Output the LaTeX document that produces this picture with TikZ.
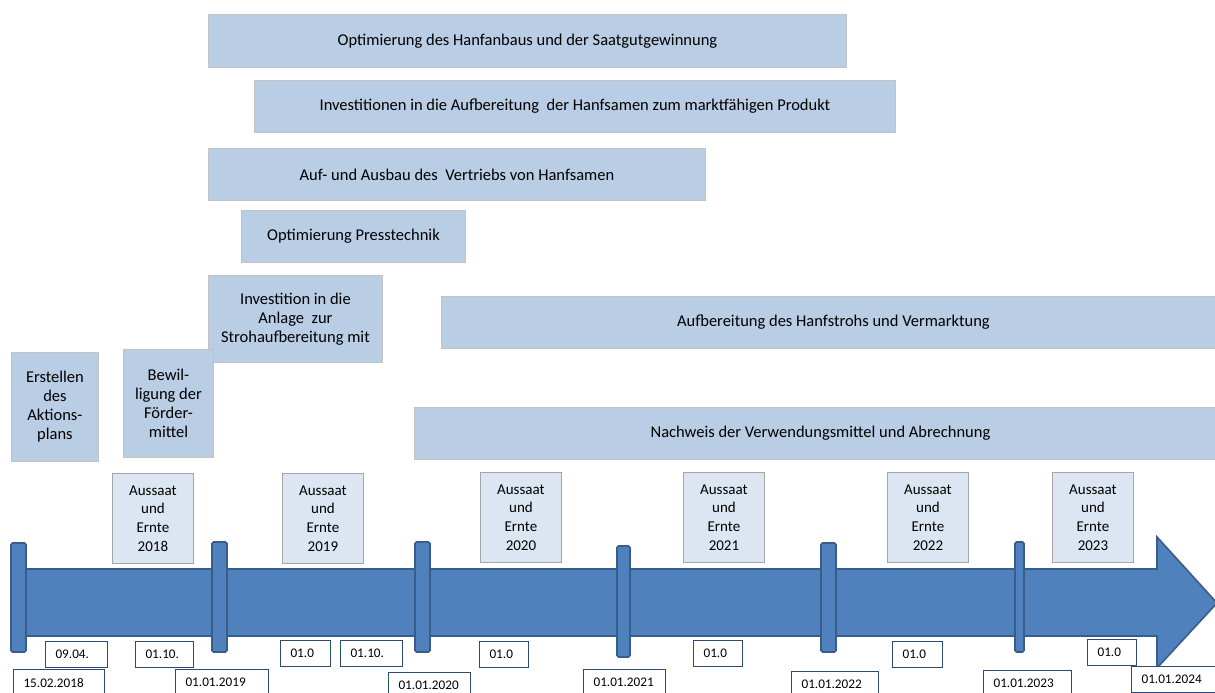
\documentclass[tikz,border=0pt]{standalone}
\usepackage{fontspec}
\setmainfont{Carlito}
\usepackage{xcolor}
\usepackage{tikz}
\usetikzlibrary{positioning}
\definecolor{taskblue}{HTML}{B9CDE5}
\definecolor{cropblue}{HTML}{DCE6F2}
\definecolor{arrowblue}{HTML}{4F81BD}
\definecolor{arrowedge}{HTML}{385D8A}
\definecolor{datenavy}{HTML}{2B4B74}
\definecolor{boxgray}{HTML}{C3C3C3}

\tikzset{
  taskbox/.style={fill=taskblue, draw=boxgray, line width=0.9pt, anchor=north west,
    align=center, inner sep=2pt, font=\fontsize{16.5}{19}\selectfont},
  cropbox/.style={fill=cropblue, draw=boxgray!85!black, line width=0.9pt, anchor=north west,
    align=center, inner sep=2pt, minimum width=81pt, minimum height=90pt,
    font=\fontsize{15}{18.8}\selectfont},
  datebox/.style={fill=white, draw=datenavy, line width=1.1pt, anchor=north west,
    align=left, inner xsep=10pt, inner ysep=0pt, minimum height=26pt,
    font=\fontsize{13.2}{15}\selectfont},
  yearmark/.style={fill=arrowblue, draw=arrowedge, line width=1.6pt, rounded corners=1.5pt}
}

\begin{document}
\begin{tikzpicture}[x=1pt, y=-1pt]
  \useasboundingbox[fill=white] (0,0) rectangle (1215,693);

  % timeline arrow
  \draw[fill=arrowblue, draw=arrowedge, line width=1.6pt]
    (18,569) -- (1157,569) -- (1157,537) -- (1217,603) -- (1157,668) -- (1157,636) -- (18,636) -- cycle;
  \foreach \x/\w/\y/\h in {11/15/543/109, 212/15/542/110, 415/15/542/110,
                           617/13/546/111, 821/15/543/109, 1015/9/542/110}
    \draw[yearmark] (\x,\y) rectangle ++(\w,\h);

  % measures
  \node[taskbox, minimum width=638pt, minimum height=53pt] (saatgut) at (208,14)
    {Optimierung des Hanfanbaus und der Saatgutgewinnung};
  \node[taskbox, minimum width=641pt, minimum height=52pt] (samen) at (254,80)
    {Investitionen in die Aufbereitung\ \ der Hanfsamen zum marktfähigen Produkt};
  \node[taskbox, minimum width=497pt, minimum height=52pt] (vertrieb) at (208,148)
    {Auf- und Ausbau des\ \ Vertriebs von Hanfsamen};
  \node[taskbox, minimum width=224pt, minimum height=52pt] (presse) at (241,210)
    {Optimierung Presstechnik};
  \node[taskbox, minimum width=174pt, minimum height=87pt] (anlage) at (208,275)
    {Investition in die\\Anlage\ \ zur\\Strohaufbereitung mit};
  \node[taskbox, minimum width=784pt, minimum height=52pt] (stroh) at (441,296)
    {Aufbereitung des Hanfstrohs und Vermarktung};
  \node[taskbox, minimum width=812pt, minimum height=52pt] (nachweis) at (414,407)
    {Nachweis der Verwendungsmittel und Abrechnung};
  \node[taskbox, minimum width=87pt, minimum height=109pt] (aktionsplan) at (11,352)
    {Erstellen\\des\\Aktions-\\plans};
  \node[taskbox, minimum width=90pt, minimum height=108pt] (bewilligung) at (123,349)
    {Bewil-\\ligung der\\Förder-\\mittel};

  % sowing and harvest
  \foreach \x/\y/\yr in {112/473/2018, 282/473/2019, 480/472/2020,
                         683/472/2021, 887/472/2022, 1052/472/2023}
    \node[cropbox] (ernte\yr) at (\x,\y) {Aussaat\\und\\Ernte\\\yr};

  % dates
  \foreach \x/\y/\w/\d [count=\i] in {45/641/62/09.04., 135/641/58/01.10., 280/640/50/01.0,
      340/640/62/01.10., 479/641/49/01.0, 693/640/49/01.0, 892/641/50/01.0, 1087/639/49/01.0}
    \node[datebox, text width=\w pt-20pt] (datum\i) at (\x,\y) {\d};
  \foreach \x/\y/\w/\d [count=\i] in {13/669/91/15.02.2018, 175/669/93/01.01.2019,
      388/672/82/01.01.2020, 583/669/82/01.01.2021, 791/671/87/01.01.2022,
      983/670/88/01.01.2023, 1131/666/90/01.01.2024}
    \node[datebox, text width=\w pt-20pt] (stichtag\i) at (\x,\y) {\d};
\end{tikzpicture}
\end{document}
